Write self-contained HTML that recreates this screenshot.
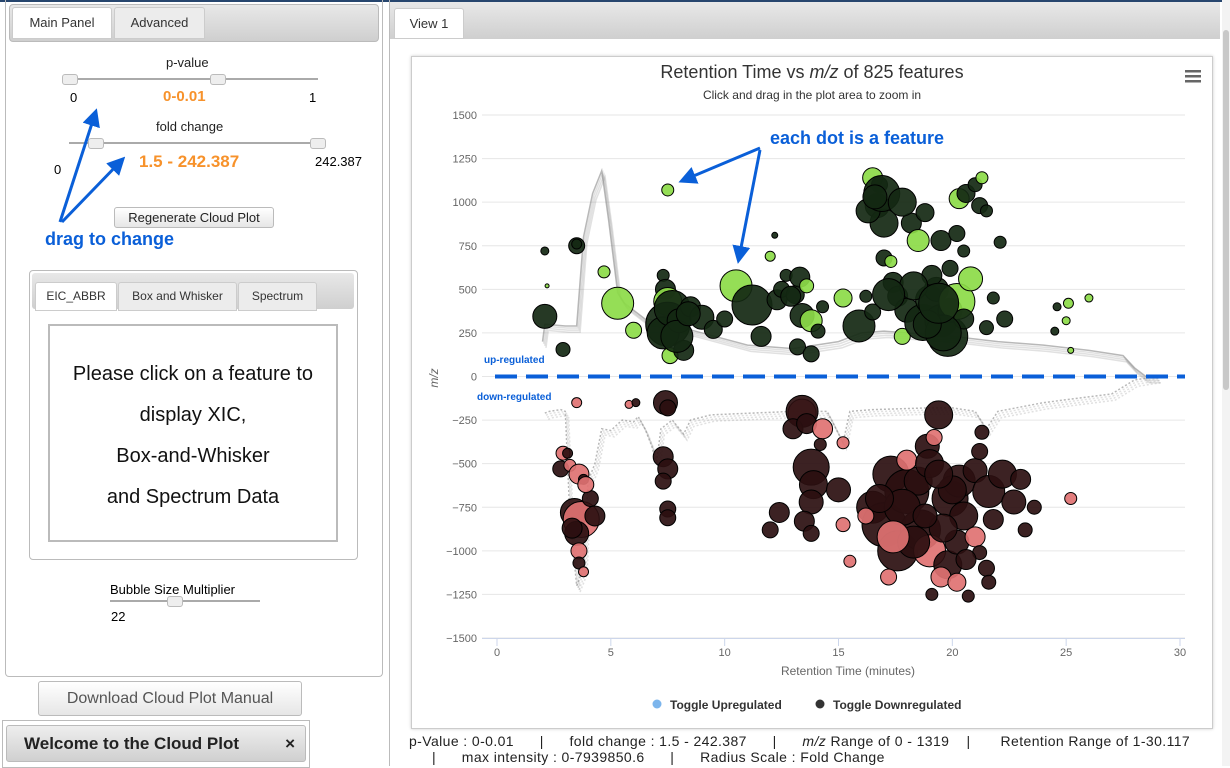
<!DOCTYPE html>
<html><head><meta charset="utf-8">
<style>
body{margin:0;width:1230px;height:766px;overflow:hidden;background:#fff;font-family:"Liberation Sans",sans-serif;position:relative}
.abs{position:absolute}
.tab{position:absolute;font-size:13px;color:#333;text-align:center;border:1px solid #ccc;border-radius:3px 3px 0 0}
.btn{position:absolute;border:1px solid #bbb;border-radius:3px;background:linear-gradient(#fff,#e6e6e6);text-align:center;color:#222}
</style></head><body>
<div class="abs" style="left:0;top:0;width:1230px;height:2px;background:#27466e"></div>
<div class="abs" style="left:5px;top:0;width:376px;height:676px;border:1px solid #bbb;border-top:none;border-radius:0 0 4px 4px"></div>
<div class="abs" style="left:9px;top:4px;width:368px;height:36px;background:linear-gradient(#e8e8e8,#cfcfcf);border:1px solid #bbb;border-radius:4px"></div>
<div class="tab" style="left:12px;top:7px;width:98px;height:30px;line-height:30px;background:#fff">Main Panel</div>
<div class="tab" style="left:114px;top:7px;width:89px;height:30px;line-height:30px;background:#ececec">Advanced</div>

<div class="abs" style="left:166px;top:55px;font-size:13px;color:#222">p-value</div>
<div class="abs" style="left:68px;top:78px;width:250px;height:2px;background:#aaa"></div>
<div class="abs" style="left:62px;top:74px;width:14px;height:9px;background:#eee;border:1px solid #bbb;border-radius:3px"></div>
<div class="abs" style="left:210px;top:74px;width:14px;height:9px;background:#eee;border:1px solid #bbb;border-radius:3px"></div>
<div class="abs" style="left:70px;top:90px;font-size:13px">0</div>
<div class="abs" style="left:163px;top:88px;font-size:15px;font-weight:bold;color:#f7922b">0-0.01</div>
<div class="abs" style="left:309px;top:90px;font-size:13px">1</div>

<div class="abs" style="left:156px;top:119px;font-size:13px;color:#222">fold change</div>
<div class="abs" style="left:69px;top:142px;width:252px;height:2px;background:#aaa"></div>
<div class="abs" style="left:88px;top:138px;width:14px;height:9px;background:#eee;border:1px solid #bbb;border-radius:3px"></div>
<div class="abs" style="left:310px;top:138px;width:14px;height:9px;background:#eee;border:1px solid #bbb;border-radius:3px"></div>
<div class="abs" style="left:54px;top:162px;font-size:13px">0</div>
<div class="abs" style="left:139px;top:152px;font-size:17px;font-weight:bold;color:#f7922b">1.5 - 242.387</div>
<div class="abs" style="left:315px;top:154px;font-size:13px">242.387</div>
<div class="btn" style="left:114px;top:207px;width:158px;height:19px;line-height:19px;font-size:13px">Regenerate Cloud Plot</div>
<div class="abs" style="left:45px;top:229px;font-size:18px;font-weight:bold;color:#0a5fd8">drag to change</div>

<div class="abs" style="left:29px;top:270px;width:327px;height:288px;border:1px solid #bbb;border-radius:4px"></div>
<div class="abs" style="left:32px;top:273px;width:322px;height:36px;background:linear-gradient(#e8e8e8,#cfcfcf);border-radius:3px"></div>
<div class="tab" style="left:35px;top:282px;width:80px;height:27px;line-height:27px;background:#fff;font-size:12px">EIC_ABBR</div>
<div class="tab" style="left:118px;top:282px;width:117px;height:27px;line-height:27px;background:#ececec;font-size:12px">Box and Whisker</div>
<div class="tab" style="left:238px;top:282px;width:77px;height:27px;line-height:27px;background:#ececec;font-size:12px">Spectrum</div>
<div class="abs" style="left:48px;top:324px;width:290px;height:218px;border:2px solid #bbb;text-align:center;font-size:20px;line-height:41px;padding-top:28px;box-sizing:border-box;color:#111">Please click on a feature to<br>display XIC,<br>Box-and-Whisker<br>and Spectrum Data</div>

<div class="abs" style="left:110px;top:582px;font-size:13px">Bubble Size Multiplier</div>
<div class="abs" style="left:110px;top:600px;width:150px;height:2px;background:#aaa"></div>
<div class="abs" style="left:167px;top:596px;width:14px;height:9px;background:#eee;border:1px solid #bbb;border-radius:3px"></div>
<div class="abs" style="left:111px;top:609px;font-size:13px">22</div>

<div class="btn" style="left:38px;top:681px;width:262px;height:33px;line-height:33px;font-size:16px;color:#555">Download Cloud Plot Manual</div>
<div class="abs" style="left:2px;top:720px;width:306px;height:46px;border:1px solid #bbb"></div>
<div class="btn" style="left:6px;top:725px;width:298px;height:35px;line-height:35px;font-size:17px;font-weight:bold;text-align:left;background:linear-gradient(#eee,#d0d0d0)"><span style="margin-left:17px">Welcome to the Cloud Plot</span><span style="position:absolute;right:10px">×</span></div>

<div class="abs" style="left:389px;top:0;width:832px;height:766px;border-left:1px solid #bbb;border-right:1px solid #bbb"></div>
<div class="abs" style="left:390px;top:2px;width:830px;height:37px;background:linear-gradient(#e8e8e8,#cfcfcf)"></div>
<div class="tab" style="left:394px;top:8px;width:68px;height:29px;line-height:29px;background:#fff">View 1</div>
<div class="abs" style="left:1222px;top:0;width:8px;height:766px;background:#f3f3f3"><div style="margin:30px 1px;width:6px;height:360px;background:#c8c8c8;border-radius:3px"></div></div>
<div class="abs" style="left:411px;top:56px;width:800px;height:671px;border:1px solid #ccc;box-shadow:0 0 3px #ccc"></div>

<svg class="abs" style="left:0;top:0" width="1230" height="766" id="chart">
<defs><marker id="ah" markerWidth="6" markerHeight="6" refX="4" refY="3" orient="auto"><path d="M0,0 L6,3 L0,6 z" fill="#0a5fd8"/></marker></defs>
<g id="grid"></g><g id="traces"></g><g id="dots"></g><g id="axes"></g>
<text x="812" y="78" font-size="18" text-anchor="middle" fill="#333">Retention Time vs <tspan font-style="italic">m/z</tspan> of 825 features</text>
<text x="812" y="99" font-size="12" text-anchor="middle" fill="#333">Click and drag in the plot area to zoom in</text>
<g fill="#666"><rect x="1185" y="70" width="16" height="2.5"/><rect x="1185" y="75" width="16" height="2.5"/><rect x="1185" y="80" width="16" height="2.5"/></g>
<text x="438" y="378" font-size="12" font-style="italic" fill="#666" transform="rotate(-90 438 378)" text-anchor="middle">m/z</text>
<text x="848" y="675" font-size="12" text-anchor="middle" fill="#666">Retention Time (minutes)</text>
<text x="484" y="363" font-size="10" font-weight="bold" fill="#0a5fd8">up-regulated</text>
<text x="477" y="400" font-size="10" font-weight="bold" fill="#0a5fd8">down-regulated</text>
<text x="770" y="144" font-size="18" font-weight="bold" fill="#0a5fd8">each dot is a feature</text>
<g stroke="#0a5fd8" stroke-width="3" marker-end="url(#ah)">
<line x1="760" y1="148" x2="684" y2="180"/><line x1="760" y1="150" x2="739" y2="258"/>
<line x1="60" y1="222" x2="95" y2="114"/><line x1="62" y1="222" x2="121" y2="161"/></g>
<g>
<circle cx="657" cy="704" r="4.5" fill="#7cb5ec"/>
<text x="670" y="709" font-size="12" font-weight="bold" fill="#333">Toggle Upregulated</text>
<circle cx="820" cy="704" r="4.5" fill="#333"/>
<text x="833" y="709" font-size="12" font-weight="bold" fill="#333">Toggle Downregulated</text></g>
</svg>
<div class="abs" style="left:409px;top:733px;font-size:14px;letter-spacing:0.4px;color:#222;white-space:pre">p-Value : 0-0.01      |      fold change : 1.5 - 242.387      |      <i>m/z</i> Range of 0 - 1319    |       Retention Range of 1-30.117</div>
<div class="abs" style="left:432px;top:749px;font-size:14px;letter-spacing:0.4px;color:#222;white-space:pre">|      max intensity : 0-7939850.6      |      Radius Scale : Fold Change</div>

<script>
const yTicks=[1500,1250,1000,750,500,250,0,-250,-500,-750,-1000,-1250,-1500];
const xTicks=[0,5,10,15,20,25,30];
const upRT=[2.1,2.2,2.1,2.9,3.5,3.5,4.7,5.3,6.0,7.5,7.3,7.4,7.5,7.5,7.3,7.6,7.7,8.0,8.2,8.5,9.0,9.5,10.0,10.5,11.2,11.6,12.0,12.2,12.3,12.5,12.7,13.1,13.3,13.6,13.4,13.8,13.2,13.8,14.1,14.3,15.2,15.9,16.2,16.5,16.5,16.7,17.0,16.8,16.3,17.0,17.4,17.3,17.6,18.0,17.8,18.2,18.5,18.8,18.7,19.0,19.3,19.1,19.5,19.8,19.9,20.2,19.5,19.9,20.2,20.3,20.6,21.0,21.3,21.2,21.5,20.5,20.5,21.5,21.8,22.1,22.3,24.5,24.6,25.1,25.0,25.2,26.0,16.9,17.8,7.9,8.4,12.9,18.3,19.6,20.8,17.2,18.9,19.4,16.6];
const upMZ=[720,520,345,155,750,760,600,420,265,1070,580,500,430,300,250,120,390,320,150,400,340,270,330,520,410,230,690,810,440,500,580,470,570,520,350,320,170,130,260,400,450,290,460,370,1140,980,880,1100,950,680,540,660,460,380,230,880,780,940,310,440,500,580,320,230,380,430,780,620,820,1020,1050,1100,1140,980,950,720,330,280,450,770,330,260,400,420,320,150,450,1050,1000,230,360,460,520,250,560,470,300,420,1030];
const upSize=[4,2,12,7,8,5,6,16,8,6,6,10,14,22,16,8,18,12,10,10,12,9,8,16,20,10,5,3,10,8,6,9,10,7,12,11,8,8,7,6,9,16,6,8,10,12,14,8,12,8,10,6,10,12,8,10,11,9,18,14,12,10,16,20,12,18,10,8,8,10,9,7,6,8,6,6,10,7,6,6,8,4,4,5,4,3,4,18,14,16,12,10,14,18,12,16,14,20,12];
const upLight=[0,1,0,0,0,0,1,1,1,1,0,0,1,0,0,1,0,0,0,0,0,0,0,1,0,0,1,0,0,0,0,0,0,1,0,1,0,0,0,0,1,0,0,0,1,0,0,0,0,0,0,1,0,0,1,0,1,0,0,0,0,0,0,0,0,1,0,0,0,1,0,0,1,0,0,0,0,0,0,0,0,0,0,1,1,1,1,0,0,0,0,0,0,0,1,0,0,0,0];
const downRT=[3.5,5.8,6.1,7.4,7.5,2.9,2.8,3.1,3.2,3.6,3.8,3.4,3.7,3.5,4.1,4.3,3.6,3.6,3.8,7.3,7.5,7.3,7.5,7.5,12.0,12.4,13.4,13.4,13.0,13.6,14.3,14.2,13.8,13.9,13.8,13.5,13.8,15.2,15.0,15.2,15.5,16.5,17.0,17.3,17.6,18.0,18.6,18.5,18.9,19.4,19.0,19.8,19.5,19.1,19.9,20.3,20.5,20.2,21.0,21.2,21.3,21.6,21.8,22.2,22.7,23.0,23.2,23.6,21.0,21.5,20.2,18.0,19.2,17.2,16.2,25.2,21.2,21.6,20.7,17.8,18.3,19.0,19.6,20.0,17.4,16.8,18.8,19.4,20.6,3.3,3.9];
const downMZ=[-150,-160,-150,-150,-180,-440,-530,-440,-510,-560,-590,-780,-820,-900,-700,-800,-1000,-1070,-1120,-460,-530,-600,-760,-810,-880,-780,-210,-200,-300,-270,-300,-390,-520,-620,-720,-830,-900,-380,-650,-850,-1060,-750,-850,-560,-1000,-660,-880,-600,-400,-220,-1000,-1080,-1150,-1250,-700,-600,-800,-950,-540,-430,-320,-660,-820,-560,-720,-590,-880,-750,-920,-1100,-1180,-480,-350,-1150,-800,-700,-1010,-1180,-1260,-750,-950,-500,-870,-650,-920,-700,-800,-560,-1050,-870,-620];
const downSize=[5,4,4,12,8,7,8,5,6,10,5,14,18,12,8,10,8,6,5,10,10,8,8,8,8,10,14,16,10,10,10,6,18,14,12,10,8,6,12,7,6,16,22,18,20,22,20,14,12,14,16,14,10,6,18,16,14,12,12,8,7,16,10,14,12,10,7,7,10,8,9,10,8,8,8,6,7,7,6,18,16,14,14,14,16,14,12,14,10,10,8];
const downPink=[1,1,0,0,0,1,0,0,1,1,0,0,1,0,0,0,1,0,1,0,0,0,0,0,0,0,1,0,0,0,1,0,0,0,0,0,0,1,0,1,1,0,0,0,0,0,0,0,0,0,1,0,1,0,0,0,0,0,0,0,0,0,0,0,0,0,0,0,1,0,1,1,1,1,1,1,0,0,0,0,0,0,0,0,1,0,0,0,0,0,1];
const upTraceRT=[2.0,2.1,3.0,3.5,3.8,4.2,4.6,4.9,5.3,5.6,6,6.5,7,9,11,13,15,16,17,18,20,22,24,26,27.5,28,28.5,29];
const upTraceMZ=[200,300,290,290,800,1050,1180,900,480,420,380,330,320,250,180,160,200,250,260,250,230,200,180,150,120,50,0,0];
const downTraceRT=[2.1,2.3,2.8,3.0,3.2,3.5,3.8,4.0,4.3,4.6,5.0,5.5,6.0,6.2,6.5,6.8,7.0,7.2,7.7,8.2,8.5,9.4,13,14.5,15.2,15.5,16.5,19,20,21,21.5,22,24,27,28,29];
const downTraceMZ=[-210,-200,-190,-200,-800,-1200,-1100,-600,-500,-300,-310,-250,-260,-230,-300,-400,-500,-300,-250,-330,-250,-220,-200,-200,-380,-200,-190,-180,-180,-200,-300,-200,-150,-100,-20,0];

const NS='http://www.w3.org/2000/svg';
const X0=497,X1=1180,Y0=376.5,PY=523/3000;
const sx=v=>X0+v*(X1-X0)/30;
const sy=v=>Y0-v*PY;
function mk(tag,attrs,parent){const e=document.createElementNS(NS,tag);for(const k in attrs)e.setAttribute(k,attrs[k]);document.getElementById(parent).appendChild(e);return e;}
yTicks.forEach(t=>{
  const l=mk('line',{x1:482,x2:1185,y1:sy(t),y2:sy(t),stroke:'#e6e6e6'},'grid');
  
  
  const tx=mk('text',{x:477,y:sy(t)+4,'font-size':11,'text-anchor':'end',fill:'#666'},'axes');
  tx.textContent=t<0?'\u2212'+Math.abs(t):String(t);
  
  
});
const ax=mk('line',{x1:482,x2:1185,y1:sy(-1500)+0.5,y2:sy(-1500)+0.5,stroke:'#ccd6eb'},'axes');


xTicks.forEach(t=>{
  const l=mk('line',{x1:sx(t),x2:sx(t),y1:sy(-1500),y2:sy(-1500)+8,stroke:'#ccd6eb'},'axes');
  
  
  const tx=mk('text',{x:sx(t),y:656,'font-size':11,'text-anchor':'middle',fill:'#666'},'axes');
  tx.textContent=t;
  
  
});
function trace(rt,mz,name){
  for(let k=0;k<4;k++){
    const pts=rt.map((r,i)=>sx(r+k*0.05)+','+sy(mz[i]-k*12)).join(' ');
    const p=mk('polyline',{points:pts,fill:'none',stroke:'#888','stroke-width':1.5,opacity:k==0?0.6:0.25},'traces');
    if(name==='down-trace')p.setAttribute('stroke-dasharray','2 2');
    
    
  }
}
trace(upTraceRT,upTraceMZ,'up-trace');
trace(downTraceRT,downTraceMZ,'down-trace');
const zl=mk('line',{x1:495,x2:1185,y1:Y0,y2:Y0,stroke:'#0a5fd8','stroke-width':4,'stroke-dasharray':'22 9'},'traces');


upRT.forEach((r,i)=>{
  const c=mk('circle',{cx:sx(r),cy:sy(upMZ[i]),r:upSize[i],fill:upLight[i]?'#8cdb48':'#132812',stroke:'#000','stroke-width':1,'fill-opacity':0.92},'dots');
  
  
});
downRT.forEach((r,i)=>{
  const c=mk('circle',{cx:sx(r),cy:sy(downMZ[i]),r:downSize[i],fill:downPink[i]?'#e07272':'#2b0f10',stroke:'#000','stroke-width':1,'fill-opacity':0.92},'dots');
  
  
});
</script>
</body></html>
